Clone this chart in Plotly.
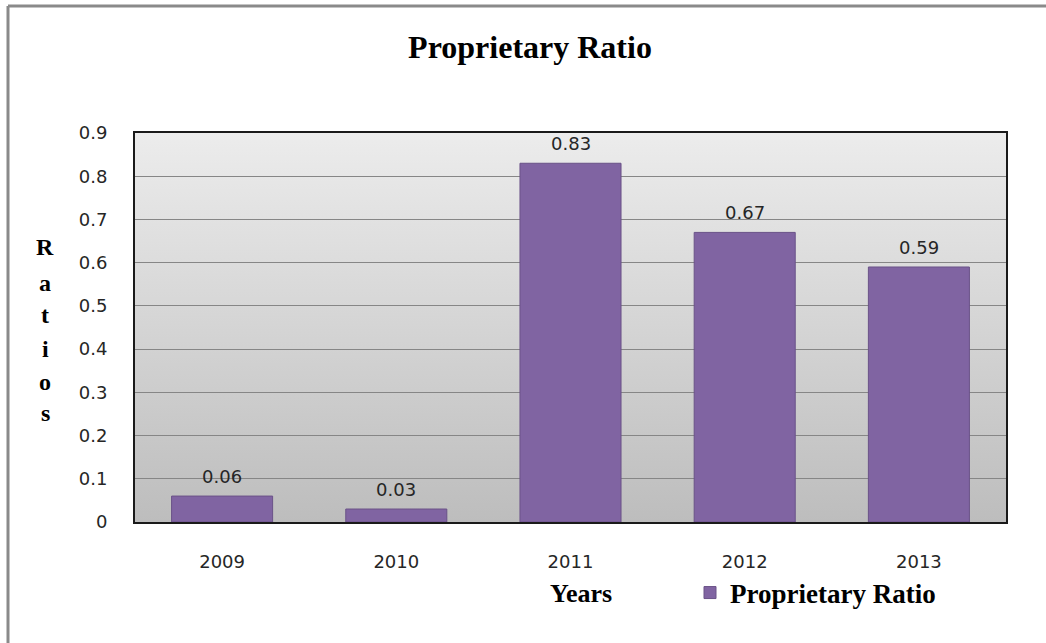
import plotly.graph_objects as go
import base64

years = ["2009", "2010", "2011", "2012", "2013"]
ratios = [0.06, 0.03, 0.83, 0.67, 0.59]
y_ticks = [0, 0.1, 0.2, 0.3, 0.4, 0.5, 0.6, 0.7, 0.8, 0.9]
y_ticktext = ["0", "0.1", "0.2", "0.3", "0.4", "0.5", "0.6", "0.7", "0.8", "0.9"]
series_name = "Proprietary Ratio"
ylabel_letters = list("Ratios")

W, H = 1046, 643
L, R, T, B = 135, 40, 133, 121
plot_w = W - L - R
plot_h = H - T - B

serif = "Liberation Serif, Times New Roman, serif"
sans = "DejaVu Sans, Verdana, sans-serif"

svg = ('<svg xmlns="http://www.w3.org/2000/svg" width="100" height="100" preserveAspectRatio="none">'
       '<defs><linearGradient id="g" x1="0" y1="0" x2="0" y2="1">'
       '<stop offset="0" stop-color="#ececec"/><stop offset="1" stop-color="#bdbdbd"/>'
       '</linearGradient></defs><rect width="100" height="100" fill="url(#g)"/></svg>')
bg_uri = "data:image/svg+xml;base64," + base64.b64encode(svg.encode()).decode()

fig = go.Figure()
fig.add_trace(go.Bar(
    x=years, y=ratios, name=f"<b>{series_name}</b>",
    marker=dict(color="#8064A2", line=dict(color="#6a5288", width=1)),
    showlegend=True, hoverinfo="skip",
))

# value labels above bars (category axis: position by category index)
for i, v in enumerate(ratios):
    fig.add_annotation(x=i, y=v, xref="x", yref="y", text=f"{v:.2f}", showarrow=False,
                       xanchor="center", yanchor="bottom", yshift=7,
                       font=dict(family=sans, size=18, color="#262626"))

fig.update_layout(
    width=W, height=H,
    margin=dict(l=L, r=R, t=T, b=B),
    paper_bgcolor="white", plot_bgcolor="rgba(0,0,0,0)",
    bargap=0.42,
    title=dict(text="<b>Proprietary Ratio</b>", x=530 / W, xanchor="center",
               y=1 - 47 / H, yanchor="middle",
               font=dict(family=serif, size=32, color="black")),
    showlegend=True,
    legend=dict(orientation="h", x=(690 - L) / plot_w, xanchor="left",
                y=(H - B - 593) / plot_h, yanchor="middle",
                font=dict(family=serif, size=27, color="black"),
                bgcolor="rgba(0,0,0,0)", itemwidth=30),
    xaxis=dict(type="category", categoryorder="array", categoryarray=years,
               range=[-0.5, len(years) - 0.5],
               showgrid=False, showline=True, linecolor="#1a1a1a", linewidth=2, mirror=True,
               ticks="", tickfont=dict(family=sans, size=18, color="#262626"),
               ticklabelstandoff=22),
    yaxis=dict(range=[0, 0.9], tickvals=y_ticks, ticktext=y_ticktext,
               showgrid=True, gridcolor="#868686", gridwidth=1,
               showline=True, linecolor="#1a1a1a", linewidth=2, mirror=True,
               ticks="", tickfont=dict(family=sans, size=18, color="#262626"),
               ticklabelstandoff=22, zeroline=False),
    images=[dict(source=bg_uri, xref="paper", yref="paper", x=0, y=1,
                 sizex=1, sizey=1, xanchor="left", yanchor="top",
                 sizing="stretch", layer="below")],
)

fig.add_annotation(text="<b>Years</b>", xref="paper", yref="paper",
                   x=(581 - L) / plot_w, y=(H - B - 593) / plot_h,
                   xanchor="center", yanchor="middle", showarrow=False,
                   font=dict(family=serif, size=26, color="black"))

letter_y = [247, 283, 315, 349, 382, 413]
for ch, py in zip(ylabel_letters, letter_y):
    fig.add_annotation(text=f"<b>{ch}</b>", xref="paper", yref="paper",
                       x=(45 - L) / plot_w, y=(H - B - py) / plot_h,
                       xanchor="center", yanchor="middle", showarrow=False,
                       font=dict(family=serif, size=24, color="black"))

# outer chart frame (top and left edges visible)
fx0 = (8 - L) / plot_w
fy1 = (H - B - 6) / plot_h
fig.add_shape(type="line", xref="paper", yref="paper", x0=fx0, x1=1.2, y0=fy1, y1=fy1,
              line=dict(color="#8a8a8a", width=3))
fig.add_shape(type="line", xref="paper", yref="paper", x0=fx0, x1=fx0, y0=fy1, y1=-0.5,
              line=dict(color="#8a8a8a", width=3))

fig.write_html("out.html", config={"displayModeBar": False},
               post_script="document.body.style.margin='0';")
